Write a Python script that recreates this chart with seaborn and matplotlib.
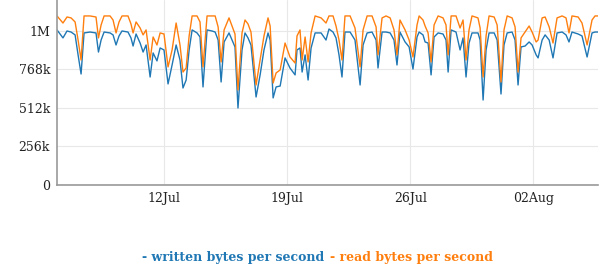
import matplotlib
matplotlib.use("Agg")
import matplotlib.pyplot as plt
import matplotlib.dates as mdates
import seaborn as sns
import pandas as pd

# time as fractional day-of-month counted from 1 July (32 = 1 Aug)
days = [5.89, 6.23, 6.46, 6.69, 6.92, 7.09, 7.26, 7.43, 7.77, 8.11,
        8.25, 8.40, 8.57, 8.91, 9.08, 9.25, 9.42, 9.59, 9.93, 10.10,
        10.22, 10.39, 10.62, 10.79, 10.96, 11.19, 11.36, 11.58, 11.76, 11.98,
        12.21, 12.44, 12.67, 12.89, 13.06, 13.24, 13.41, 13.58, 13.86, 14.03,
        14.20, 14.43, 14.71, 14.89, 15.06, 15.23, 15.40, 15.68, 15.85, 16.02,
        16.19, 16.42, 16.59, 16.76, 16.93, 17.22, 17.45, 17.67, 17.90, 18.02,
        18.19, 18.36, 18.59, 18.87, 19.15, 19.44, 19.55, 19.72, 19.84, 20.01,
        20.18, 20.35, 20.58, 20.92, 21.20, 21.37, 21.60, 21.77, 21.94, 22.11,
        22.28, 22.57, 22.85, 23.14, 23.31, 23.54, 23.82, 24.05, 24.16, 24.39,
        24.62, 24.85, 25.07, 25.24, 25.41, 25.70, 25.93, 26.15, 26.38, 26.50,
        26.72, 26.84, 27.01, 27.18, 27.35, 27.58, 27.86, 28.03, 28.15, 28.32,
        28.60, 28.83, 29.00, 29.17, 29.34, 29.51, 29.85, 29.97, 30.14, 30.31,
        30.48, 30.77, 30.94, 31.16, 31.33, 31.51, 31.79, 31.96, 32.13, 32.30,
        32.53, 32.76, 32.93, 33.16, 33.27, 33.50, 33.67, 33.90, 34.12, 34.35,
        34.64, 34.86, 35.03, 35.20, 35.55, 35.77, 36.06, 36.34, 36.51, 36.68]

# values in KiB per second (1024 = 1M)
read_k = [1124, 1077, 1117, 1111, 1084, 964, 831, 1124, 1124, 1117,
          978, 1064, 1124, 1124, 1097, 1011, 1084, 1124, 1124, 1071,
          1011, 1084, 1044, 998, 1031, 831, 984, 931, 1011, 1004,
          785, 898, 1077, 931, 751, 778, 991, 1124, 1124, 1084,
          785, 1124, 1124, 1124, 1051, 818, 1031, 1111, 1057, 1004,
          632, 1011, 1097, 1071, 1017, 665, 831, 991, 1111, 1057,
          678, 745, 765, 944, 851, 811, 991, 1031, 831, 984,
          818, 1011, 1124, 1111, 1077, 1124, 1124, 1057, 964, 831,
          1124, 1124, 1044, 785, 1031, 1124, 1124, 1051, 865, 1111,
          1124, 1111, 1031, 865, 1097, 1031, 964, 851, 1064, 1124,
          1097, 1057, 1011, 818, 1064, 1124, 1111, 1064, 865, 1124,
          1124, 1044, 1097, 831, 1031, 1124, 1111, 1044, 718, 991,
          1124, 1117, 1064, 685, 1031, 1124, 1111, 1051, 751, 978,
          1017, 1057, 1017, 951, 964, 1111, 1117, 1051, 944, 1111,
          1124, 1111, 1011, 1124, 1117, 1077, 931, 1097, 1124, 1124]

written_k = [1031, 978, 1024, 1017, 998, 865, 738, 1011, 1017, 1011,
             884, 964, 1017, 1011, 998, 931, 991, 1024, 1017, 978,
             924, 1004, 944, 884, 931, 718, 878, 825, 911, 898,
             672, 798, 931, 831, 645, 698, 898, 1031, 1011, 984,
             652, 1031, 1024, 1017, 964, 685, 951, 1011, 964, 918,
             512, 898, 1011, 978, 931, 585, 732, 898, 1011, 964,
             579, 652, 658, 845, 778, 732, 898, 911, 751, 865,
             698, 911, 1011, 1011, 964, 1037, 1017, 978, 865, 718,
             1017, 1017, 964, 665, 931, 1011, 1017, 964, 778, 1017,
             1017, 1011, 964, 798, 1017, 951, 918, 771, 984, 1017,
             998, 951, 944, 732, 984, 1011, 1004, 964, 751, 1031,
             1017, 898, 978, 718, 944, 1011, 1011, 964, 565, 898,
             1011, 1011, 964, 605, 931, 1011, 1017, 964, 665, 918,
             924, 951, 931, 865, 845, 964, 998, 964, 845, 1011,
             1017, 998, 951, 1017, 1004, 991, 851, 1011, 1017, 1017]

series_names = ["written bytes per second", "read bytes per second"]
series_colors = ["#1f77b4", "#ff7f0e"]

ytick_values = [0, 256, 512, 768, 1024]
ytick_labels = ["0", "256k", "512k", "768k", "1M"]
xtick_dates = ["2021-07-12", "2021-07-19", "2021-07-26", "2021-08-02"]
xtick_labels = ["12Jul", "19Jul", "26Jul", "02Aug"]

base = pd.Timestamp("2021-07-01")
times = [base + pd.Timedelta(days=d - 1) for d in days]

df = pd.concat([
    pd.DataFrame({"time": times, "value": written_k, "series": series_names[0]}),
    pd.DataFrame({"time": times, "value": read_k, "series": series_names[1]}),
])

sns.set_style("white")
plt.rcParams["font.family"] = ["DejaVu Serif"]

fig = plt.figure(figsize=(6.03, 2.70), dpi=100)
ax = fig.add_axes([57 / 603, 85 / 270, 541 / 603, 185 / 270])

sns.lineplot(data=df, x="time", y="value", hue="series",
             palette=dict(zip(series_names, series_colors)),
             linewidth=1.0, legend=False, ax=ax)

ax.set_xlim(times[0], times[-1])
ax.set_ylim(0, 1230)
ax.set_yticks(ytick_values)
ax.set_yticklabels(ytick_labels)
ax.set_xticks([pd.Timestamp(t) for t in xtick_dates])
ax.set_xticklabels(xtick_labels)
ax.set_xlabel("")
ax.set_ylabel("")
ax.grid(True, color="#e8e8e8", linewidth=0.8)
ax.set_axisbelow(True)
for s in ["top", "right"]:
    ax.spines[s].set_visible(False)
for s in ["left", "bottom"]:
    ax.spines[s].set_color("#999999")
    ax.spines[s].set_linewidth(1.2)
ax.tick_params(axis="both", length=0, labelsize=9, colors="#222222", pad=5)

fig.text(324 / 603, 12 / 270, "- " + series_names[0], ha="right", va="center",
         color=series_colors[0], fontsize=9, fontweight="bold")
fig.text(330 / 603, 12 / 270, "- " + series_names[1], ha="left", va="center",
         color=series_colors[1], fontsize=9, fontweight="bold")

fig.savefig("out.png", dpi=100)
